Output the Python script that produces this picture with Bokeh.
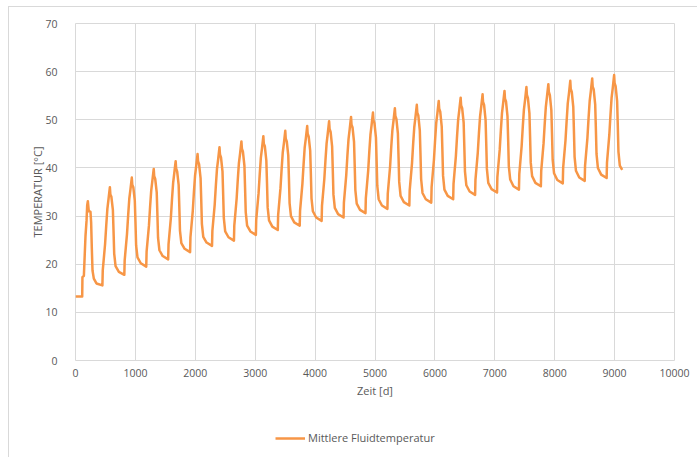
from bokeh.plotting import figure
from bokeh.layouts import column
from bokeh.models import Range1d, FixedTicker, Legend, LegendItem, ColumnDataSource
from bokeh.embed import file_html
from bokeh.resources import INLINE

# ---------------- data ----------------
x_ticks = [0, 1000, 2000, 3000, 4000, 5000, 6000, 7000, 8000, 9000, 10000]
y_ticks = [0, 10, 20, 30, 40, 50, 60, 70]
x_title = "Zeit [d]"
y_title = "TEMPERATUR [°C]"
series_name = "Mittlere Fluidtemperatur"

# time [d], one row per yearly cycle
zeit_zyklen = [
    [0, 112, 116, 140, 150, 167, 184, 195, 206, 222, 250, 261, 272, 284, 306, 350],
    [449, 455, 494, 514, 532, 552, 574, 582, 599, 624, 635, 646, 669, 724],
    [815, 821, 860, 880, 898, 918, 940, 948, 965, 990, 1001, 1012, 1035, 1090],
    [1181, 1187, 1226, 1246, 1264, 1284, 1306, 1314, 1331, 1356, 1367, 1378, 1401, 1456],
    [1547, 1553, 1592, 1612, 1630, 1650, 1672, 1680, 1697, 1722, 1733, 1744, 1767, 1822],
    [1913, 1919, 1958, 1978, 1996, 2016, 2038, 2046, 2063, 2088, 2099, 2110, 2133, 2188],
    [2279, 2285, 2324, 2344, 2362, 2382, 2404, 2412, 2429, 2454, 2465, 2476, 2499, 2554],
    [2645, 2651, 2690, 2710, 2728, 2748, 2770, 2778, 2795, 2820, 2831, 2842, 2865, 2920],
    [3011, 3017, 3056, 3076, 3094, 3114, 3136, 3144, 3161, 3186, 3197, 3208, 3231, 3286],
    [3377, 3383, 3422, 3442, 3460, 3480, 3502, 3510, 3527, 3552, 3563, 3574, 3597, 3652],
    [3743, 3749, 3788, 3808, 3826, 3846, 3868, 3876, 3893, 3918, 3929, 3940, 3963, 4018],
    [4109, 4115, 4154, 4174, 4192, 4212, 4234, 4242, 4259, 4284, 4295, 4306, 4329, 4384],
    [4475, 4481, 4520, 4540, 4558, 4578, 4600, 4608, 4625, 4650, 4661, 4672, 4695, 4750],
    [4841, 4847, 4886, 4906, 4924, 4944, 4966, 4974, 4991, 5016, 5027, 5038, 5061, 5116],
    [5207, 5213, 5252, 5272, 5290, 5310, 5332, 5340, 5357, 5382, 5393, 5404, 5427, 5482],
    [5573, 5579, 5618, 5638, 5656, 5676, 5698, 5706, 5723, 5748, 5759, 5770, 5793, 5848],
    [5939, 5945, 5984, 6004, 6022, 6042, 6064, 6072, 6089, 6114, 6125, 6136, 6159, 6214],
    [6305, 6311, 6350, 6370, 6388, 6408, 6430, 6438, 6455, 6480, 6491, 6502, 6525, 6580],
    [6671, 6677, 6716, 6736, 6754, 6774, 6796, 6804, 6821, 6846, 6857, 6868, 6891, 6946],
    [7037, 7043, 7082, 7102, 7120, 7140, 7162, 7170, 7187, 7212, 7223, 7234, 7257, 7312],
    [7403, 7409, 7448, 7468, 7486, 7506, 7528, 7536, 7553, 7578, 7589, 7600, 7623, 7678],
    [7769, 7775, 7814, 7834, 7852, 7872, 7894, 7902, 7919, 7944, 7955, 7966, 7989, 8044],
    [8135, 8141, 8180, 8200, 8218, 8238, 8260, 8268, 8285, 8310, 8321, 8332, 8355, 8410],
    [8501, 8507, 8546, 8566, 8584, 8604, 8626, 8634, 8651, 8676, 8687, 8698, 8721, 8776],
    [8867, 8873, 8912, 8932, 8950, 8970, 8992, 9000, 9017, 9042, 9053, 9064, 9087, 9127],
]

# mean fluid temperature [°C], one row per yearly cycle
temperatur_zyklen = [
    [13.3, 13.3, 17.3, 17.6, 20.7, 25.9, 29.0, 32.2, 33.1, 31.0, 30.9, 28.7, 23.5, 18.7, 17.0, 16.0],
    [15.6, 18.7, 24.2, 28.2, 31.5, 33.6, 36.0, 34.5, 34.0, 31.3, 26.9, 22.2, 19.6, 18.4],
    [17.8, 20.8, 26.3, 30.3, 33.6, 35.6, 38.0, 36.5, 36.0, 33.2, 28.8, 23.9, 21.4, 20.2],
    [19.5, 22.6, 28.0, 32.1, 35.3, 37.4, 39.8, 38.3, 37.7, 34.9, 30.4, 25.5, 22.9, 21.7],
    [21.0, 24.1, 29.6, 33.7, 36.9, 39.0, 41.4, 39.9, 39.3, 36.5, 32.0, 27.0, 24.4, 23.2],
    [22.5, 25.6, 31.1, 35.2, 38.4, 40.5, 42.9, 41.4, 40.8, 37.9, 33.4, 28.4, 25.7, 24.5],
    [23.8, 26.9, 32.4, 36.5, 39.8, 41.8, 44.3, 42.8, 42.2, 39.3, 34.6, 29.6, 26.8, 25.6],
    [24.9, 28.0, 33.6, 37.7, 41.0, 43.0, 45.5, 44.0, 43.4, 40.5, 35.8, 30.8, 28.0, 26.8],
    [26.1, 29.2, 34.7, 38.8, 42.1, 44.1, 46.6, 45.0, 44.5, 41.5, 36.9, 31.8, 29.1, 27.8],
    [27.1, 30.2, 35.8, 39.9, 43.2, 45.2, 47.7, 46.1, 45.5, 42.6, 37.9, 32.7, 30.0, 28.7],
    [28.0, 31.1, 36.7, 40.8, 44.2, 46.2, 48.7, 47.1, 46.5, 43.6, 38.9, 33.7, 31.0, 29.7],
    [29.0, 32.1, 37.7, 41.8, 45.1, 47.2, 49.7, 48.1, 47.5, 44.5, 39.7, 34.5, 31.7, 30.4],
    [29.7, 32.8, 38.5, 42.7, 46.0, 48.1, 50.6, 49.0, 48.4, 45.4, 40.6, 35.4, 32.6, 31.3],
    [30.6, 33.7, 39.4, 43.6, 46.9, 49.0, 51.5, 49.9, 49.3, 46.3, 41.5, 36.3, 33.5, 32.2],
    [31.5, 34.6, 40.3, 44.5, 47.8, 49.9, 52.4, 50.8, 50.2, 47.2, 42.3, 37.1, 34.2, 32.9],
    [32.2, 35.3, 41.0, 45.2, 48.5, 50.6, 53.1, 51.5, 50.9, 47.8, 43.0, 37.7, 34.8, 33.5],
    [32.8, 36.0, 41.7, 45.9, 49.3, 51.4, 53.9, 52.3, 51.7, 48.6, 43.7, 38.4, 35.5, 34.2],
    [33.5, 36.7, 42.4, 46.6, 50.0, 52.1, 54.6, 53.0, 52.4, 49.4, 44.5, 39.3, 36.4, 35.1],
    [34.4, 37.5, 43.2, 47.4, 50.7, 52.8, 55.3, 53.7, 53.1, 50.0, 45.1, 39.8, 36.9, 35.6],
    [34.9, 38.1, 43.8, 48.0, 51.4, 53.5, 56.0, 54.4, 53.8, 50.7, 45.8, 40.4, 37.6, 36.2],
    [35.5, 38.7, 44.5, 48.7, 52.1, 54.2, 56.8, 55.2, 54.5, 51.4, 46.5, 41.1, 38.3, 36.9],
    [36.2, 39.4, 45.1, 49.3, 52.7, 54.9, 57.4, 55.8, 55.1, 52.0, 47.1, 41.7, 38.9, 37.5],
    [36.8, 40.0, 45.7, 49.9, 53.4, 55.5, 58.1, 56.4, 55.8, 52.7, 47.7, 42.3, 39.4, 38.0],
    [37.3, 40.5, 46.2, 50.5, 53.9, 56.0, 58.6, 56.9, 56.3, 53.2, 48.3, 42.9, 40.0, 38.6],
    [37.9, 41.1, 46.9, 51.2, 54.6, 56.7, 59.3, 57.6, 57.0, 53.9, 48.9, 43.4, 40.5, 39.6],
]

# ---------------- build ----------------
zeit = [d for row in zeit_zyklen for d in row]
temperatur = [t for row in temperatur_zyklen for t in row]
source = ColumnDataSource(data=dict(zeit=zeit, temperatur=temperatur))

FONT = "Open Sans"
TXT = "#595959"
GRID = "#d9d9d9"
LINE = "#F79646"

p = figure(
    width=688, height=410,
    x_range=Range1d(0, 10000), y_range=Range1d(0, 70),
    output_backend="svg", toolbar_location=None,
    min_border_left=66, min_border_right=23,
    min_border_top=16, min_border_bottom=57,
)
p.background_fill_color = "white"
p.border_fill_color = "white"
p.outline_line_color = GRID
p.outline_line_width = 1

p.xaxis.ticker = FixedTicker(ticks=x_ticks)
p.yaxis.ticker = FixedTicker(ticks=y_ticks)
for ax in (p.xaxis, p.yaxis):
    ax.axis_line_color = None
    ax.major_tick_line_color = None
    ax.minor_tick_line_color = None
    ax.major_label_text_font = FONT
    ax.major_label_text_font_size = "10.5px"
    ax.major_label_text_color = TXT
    ax.axis_label_text_font = FONT
    ax.axis_label_text_font_size = "11px"
    ax.axis_label_text_font_style = "normal"
    ax.axis_label_text_color = TXT

p.xaxis.axis_label = x_title
p.yaxis.axis_label = y_title
p.xaxis.major_label_standoff = 2
p.yaxis.major_label_standoff = 12
p.xaxis.axis_label_standoff = 3
p.yaxis.axis_label_standoff = -3

p.xgrid.grid_line_color = GRID
p.ygrid.grid_line_color = GRID
p.xgrid.grid_line_width = 1
p.ygrid.grid_line_width = 1

p.line(x="zeit", y="temperatur", source=source,
       line_color=LINE, line_width=2.5, line_join="round")

# legend strip below the chart (same series; its line lies outside this strip's view)
leg = figure(
    width=688, height=40,
    x_range=Range1d(-1000, -312), y_range=Range1d(0, 40),
    x_axis_type=None, y_axis_type=None,
    output_backend="svg", toolbar_location=None,
    min_border_left=0, min_border_right=0, min_border_top=0, min_border_bottom=0,
)
leg.outline_line_color = None
leg.background_fill_color = "white"
leg.border_fill_color = "white"
r_leg = leg.line(x="zeit", y="temperatur", source=source,
                 line_color=LINE, line_width=2.5)
legend = Legend(
    items=[LegendItem(label=series_name, renderers=[r_leg])],
    location=(200, 12), orientation="horizontal",
    glyph_width=30, glyph_height=14, label_height=14, label_standoff=3,
    padding=0, margin=0, spacing=0,
    border_line_color=None, background_fill_alpha=0,
    label_text_font=FONT, label_text_font_size="11px", label_text_color=TXT,
)
leg.add_layout(legend)

layout = column(
    p, leg, spacing=0,
    styles={
        "margin-left": "8px", "margin-top": "6px",
        "border-left": "1px solid #d9d9d9", "border-top": "1px solid #d9d9d9",
    },
)

open("out.html", "w").write(file_html(layout, INLINE))
